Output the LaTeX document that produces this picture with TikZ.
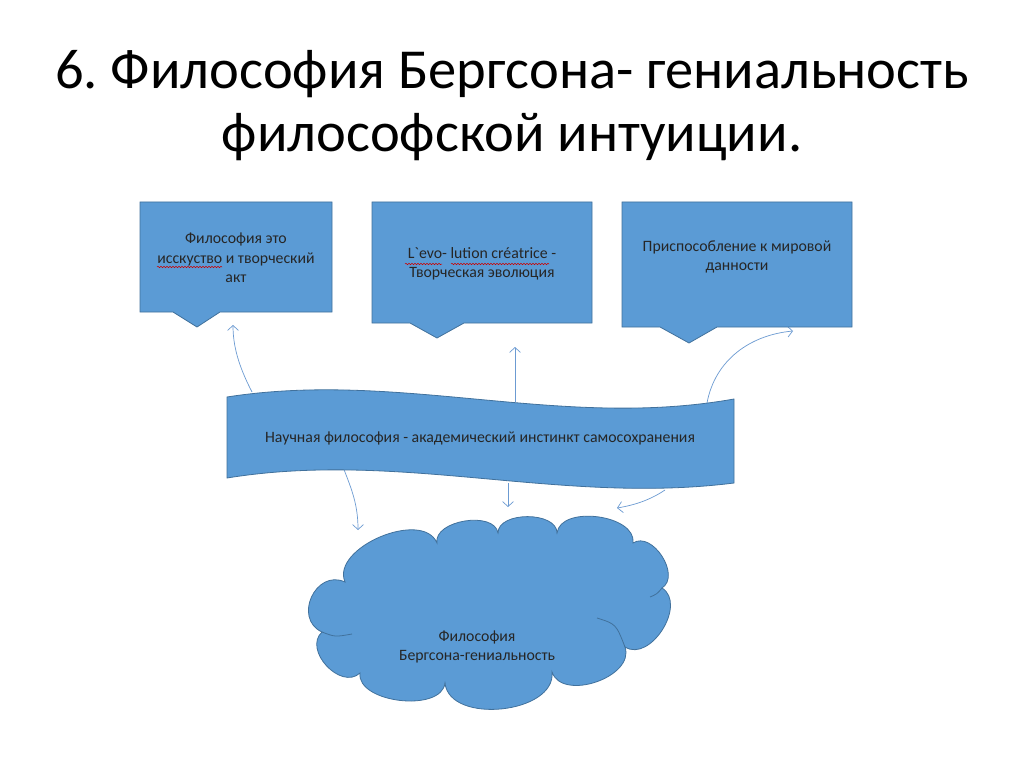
\documentclass[tikz,border=0pt]{standalone}
\usepackage{fontspec}
\setmainfont{Carlito}
\usepackage{tikz}
\usetikzlibrary{arrows.meta,decorations.pathmorphing}
\definecolor{boxblue}{HTML}{5B9BD5}
\definecolor{boxedge}{HTML}{41719C}
\definecolor{linkblue}{HTML}{6C9BD2}

\begin{document}
\begin{tikzpicture}[x=1pt, y=-1pt,
	every node/.style={font=\fontsize{15.8}{19.5}\selectfont, text=black!85, align=center},
	boxst/.style={fill=boxblue, draw=boxedge, line width=0.8pt},
	link/.style={draw=linkblue, line width=0.7pt, -{Straight Barb[length=5pt,width=11pt]}},
	squig/.style={draw=red!80!black, line width=0.5pt, decorate, decoration={snake, amplitude=0.7pt, segment length=3pt}}]
	\useasboundingbox[fill=white] (0,0) rectangle (1024,767);
	% title
	\node[font=\fontsize{56.5}{62}\selectfont, text=black, anchor=base] (title1) at (512,89) {6.\ Философия Бергсона- гениальность};
	\node[font=\fontsize{56.5}{62}\selectfont, text=black, anchor=base] (title2) at (512,152) {философской интуиции.};
	% arrow ends
	\coordinate (u1) at (252,392); \coordinate (t1) at (233,325);
	\coordinate (u2) at (515,402); \coordinate (t2) at (515,347);
	\coordinate (u3) at (707,403); \coordinate (t3) at (793,331);
	\coordinate (d1) at (343,467); \coordinate (c1) at (358,530);
	\coordinate (d2) at (508,483); \coordinate (c2) at (508,507);
	\coordinate (d3) at (665,490); \coordinate (c3) at (617,508);
	\draw[link] (u1) .. controls (238,365) and (233,345) .. (t1);
	\draw[link] (u2) -- (t2);
	\draw[link] (u3) .. controls (715,360) and (750,335) .. (t3);
	\draw[link] (d1) .. controls (352,490) and (358,505) .. (c1);
	\draw[link] (d2) -- (c2);
	\draw[link] (d3) .. controls (650,500) and (635,505) .. (c3);
	% callouts
	\draw[boxst] (140,202) -- (332,202) -- (332,312) -- (220,312) -- (197,327) -- (173,312) -- (140,312) -- cycle;
	\draw[boxst] (372,202) -- (592,202) -- (592,323) -- (464,323) -- (437,338) -- (410,323) -- (372,323) -- cycle;
	\draw[boxst] (622,202) -- (852,202) -- (852,327) -- (717,327) -- (689,343) -- (660,327) -- (622,327) -- cycle;
	\node (art) at (236,258) {Философия это\\исскуство и творческий\\акт};
	\node (evo) at (482,264) {L\textasciigrave evo- lution créatrice -\\Творческая эволюция};
	\node (adapt) at (737,257) {Приспособление к мировой\\данности};
	\draw[squig] (157,267) -- (222,267);
	\draw[squig] (405,264) -- (442,264);
	\draw[squig] (451,264) -- (549,264);
	% banner
	\draw[boxst] (227,397) .. controls (400,370) and (560,430) .. (734,399) -- (734,483)
		.. controls (560,505) and (400,450) .. (227,478) -- cycle;
	\node (sci) at (480,438) {Научная философия - академический инстинкт самосохранения};
	% cloud
	\draw[boxst] (345,582) to[bend right=90, looseness=1.5] (322,632)
		to[bend right=90, looseness=1.2] (360,673)
		to[bend right=90, looseness=0.9] (445,683)
		to[bend right=90, looseness=1.0] (552,672)
		to[bend right=90, looseness=1.05] (625,647)
		to[bend right=90, looseness=1.1] (662,588)
		to[bend right=90, looseness=1.1] (633,543)
		to[bend right=90, looseness=0.95] (557,533)
		to[bend right=90, looseness=0.95] (498,533)
		to[bend right=90, looseness=0.95] (437,543)
		to[bend right=90, looseness=0.95] (345,582) -- cycle;
	\draw[boxedge, line width=0.8pt] (322,632) .. controls (335,637) .. (352,634);
	\draw[boxedge, line width=0.8pt] (597,618) .. controls (616,624) .. (625,647);
	\draw[boxedge, line width=0.8pt] (662,588) .. controls (657,594) .. (650,597);
	\node (berg) at (477,647) {Философия\\Бергсона-гениальность};
\end{tikzpicture}
\end{document}
